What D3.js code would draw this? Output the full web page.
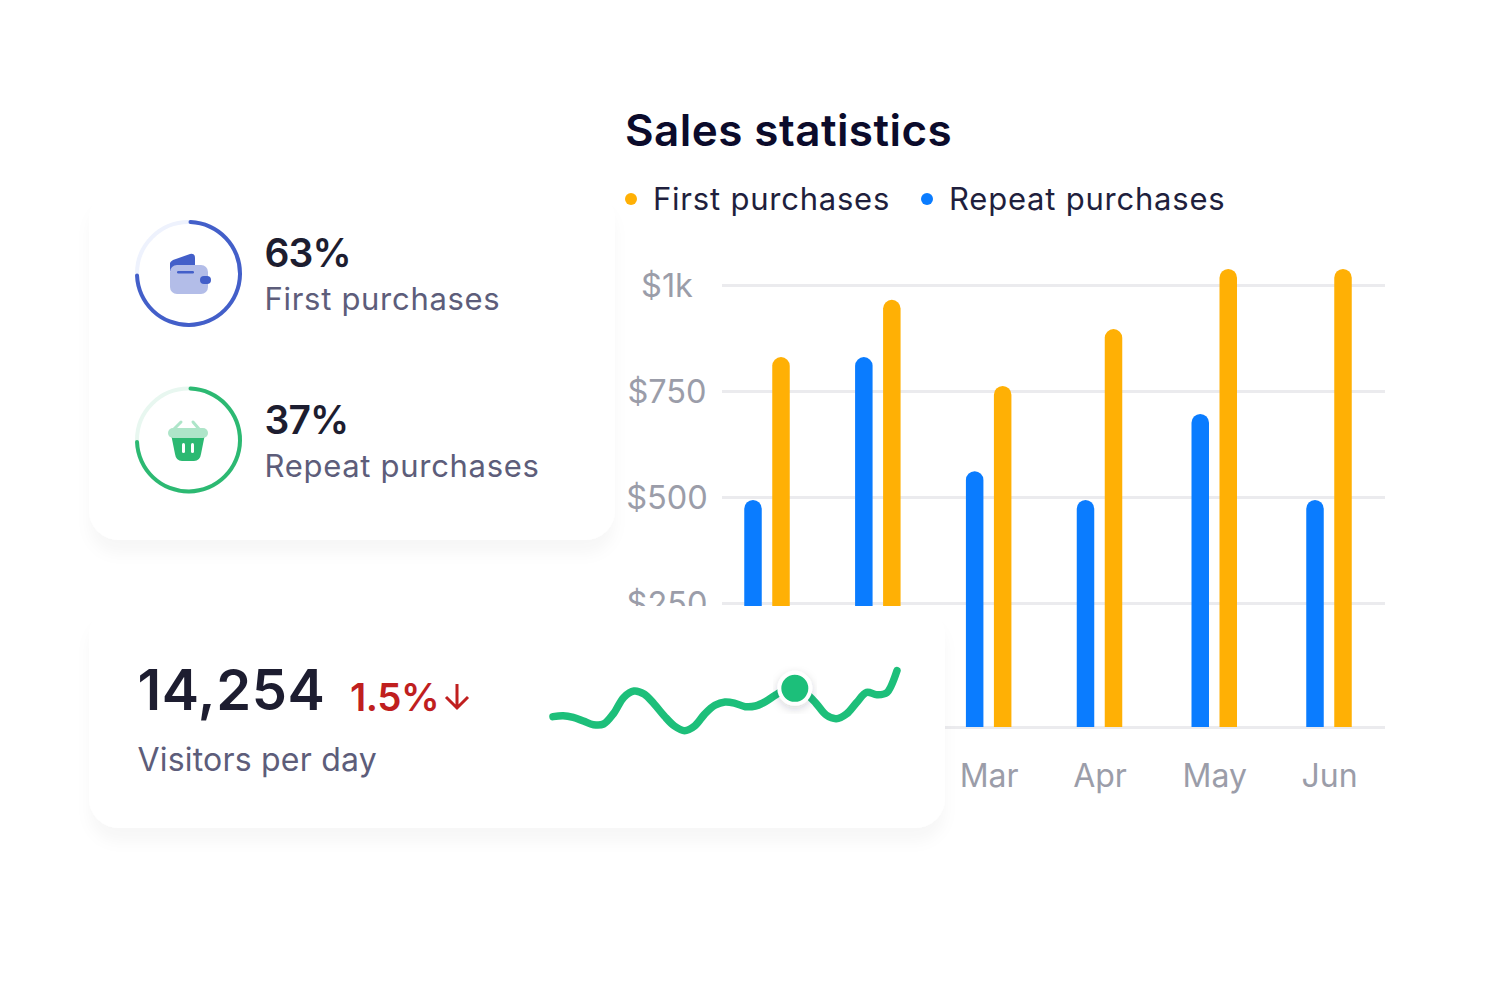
<!DOCTYPE html>
<html>
<head>
<meta charset="utf-8">
<script src="https://cdn.jsdelivr.net/npm/d3@7"></script>
<style>
  html, body { margin: 0; background: #fff; }
  svg { display: block; font-family: Inter, "Noto Sans", sans-serif; }
</style>
</head>
<body>
<svg id="chart" width="1507" height="996"></svg>
<script>
const months = ["Jan", "Feb", "Mar", "Apr", "May", "Jun"]
const repeatSales = [493, 830, 561, 493, 696, 493]
const firstSales = [830, 965, 762, 896, 1038, 1038]
const tickValues = [0, 250, 500, 750, 1000]
const tickLabels = ["", "$250", "$500", "$750", "$1k"]

const ringLabels = ["First purchases", "Repeat purchases"]
const ringPercents = ["63%", "37%"]
const ringFill = [0.75, 0.75]

const visitorValues = [70, 73, 68, 57, 46, 48, 80, 128, 147, 138, 108, 72, 42, 28, 42, 78, 104, 114, 110, 100, 102, 115, 135, 152, 155, 140, 110, 75, 64, 78, 112, 143, 136, 142, 208]
const highlightIndex = 24

const svg = d3.select("#chart")

// soft card shadows
const defs = svg.append("defs")
const addShadow = (id, dy, blur, opacity) => defs.append("filter")
  .attr("id", id)
  .attr("x", "-20%").attr("y", "-20%").attr("width", "140%").attr("height", "150%")
  .append("feDropShadow")
  .attr("dx", 0).attr("dy", dy).attr("stdDeviation", blur)
  .attr("flood-color", "#1a1a3a").attr("flood-opacity", opacity)
addShadow("cardShadow", 14, 7, 0.03)
addShadow("dotShadow", 3, 4, 0.18)

// Bar chart
// month groups are not evenly spaced: the gap widens a little after April
const x = d3.scaleLinear().domain([0, 3, 5]).range([767, 1099.5, 1329])
// the zero line sits lower than the even tick spacing would put it
const y = d3.scaleLinear().domain([0, 250, 1000]).range([727, 603, 285])

const plot = svg.append("g")

plot.append("text")
  .attr("x", 625).attr("y", 146)
  .attr("font-size", 44).attr("font-weight", 600).attr("letter-spacing", 0.45).attr("fill", "#0b0b2b")
  .text("Sales statistics")

const legend = [
  { label: "First purchases", color: "#ffb005", dot: 631, text: 653 },
  { label: "Repeat purchases", color: "#0a7cff", dot: 927, text: 949 }
]
legend.forEach(d => {
  plot.append("circle").attr("cx", d.dot).attr("cy", 199).attr("r", 6).attr("fill", d.color)
  plot.append("text")
    .attr("x", d.text).attr("y", 210)
    .attr("font-size", 31).attr("letter-spacing", 0.78).attr("fill", "#1f1f3d")
    .text(d.label)
})

const yAxis = plot.append("g")
  .attr("transform", "translate(722,0)")
  .call(d3.axisRight(y).tickValues(tickValues).tickSize(663)
    .tickFormat(d => tickLabels[tickValues.indexOf(d)]))
yAxis.select(".domain").remove()
yAxis.selectAll("line").attr("stroke", "#ebebee").attr("stroke-width", 3)
yAxis.selectAll("text")
  .attr("text-anchor", "middle").attr("x", -55).attr("dy", "0.36em")
  .attr("font-size", 32.5).attr("font-family", "Inter").attr("fill", "#9b9da9")

const xAxis = plot.append("g")
  .attr("transform", "translate(0,727)")
  .call(d3.axisBottom(x).tickValues(d3.range(months.length)).tickSize(0).tickPadding(37)
    .tickFormat(i => months[i]))
xAxis.select(".domain").remove()
xAxis.selectAll("text")
  .attr("font-size", 32).attr("font-family", "Inter").attr("fill", "#9b9da9")

const barWidth = 17.5
const barPath = (cx, value) => {
  const top = y(value), r = barWidth / 2, left = cx - r, right = cx + r
  const p = d3.path()
  p.moveTo(left, y(0))
  p.lineTo(left, top + r)
  p.arc(cx, top + r, r, Math.PI, 0)
  p.lineTo(right, y(0))
  p.closePath()
  return p.toString()
}
plot.append("g").selectAll("path").data(months).join("path")
  .attr("fill", "#0a7cff")
  .attr("d", (m, i) => barPath(x(i) - 14, repeatSales[i]))
plot.append("g").selectAll("path").data(months).join("path")
  .attr("fill", "#ffb005")
  .attr("d", (m, i) => barPath(x(i) + 14, firstSales[i]))

// Share card
svg.append("rect")
  .attr("x", 89).attr("y", 190).attr("width", 526).attr("height", 350).attr("rx", 30)
  .attr("fill", "#fff").attr("filter", "url(#cardShadow)")

const ringColors = ["#435fc9", "#2cb972"]
const ringTracks = ["#eef2fd", "#e8f7f0"]
const ringCenters = [273.5, 440]
const ringArc = d3.arc().innerRadius(49.5).outerRadius(53.5).cornerRadius(2).startAngle(0)

ringLabels.forEach((label, i) => {
  const g = svg.append("g").attr("transform", `translate(188.5,${ringCenters[i]})`)
  g.append("circle").attr("r", 51.5).attr("fill", "none")
    .attr("stroke", ringTracks[i]).attr("stroke-width", 4)
  g.append("path").attr("fill", ringColors[i])
    .attr("d", ringArc({ endAngle: 2 * Math.PI * ringFill[i] }))
  const t = svg.append("g").attr("transform", `translate(264.5,${ringCenters[i]})`)
  t.append("text").attr("y", -6.5)
    .attr("font-size", 39).attr("font-weight", 600).attr("letter-spacing", -0.9).attr("fill", "#1d1d30")
    .text(ringPercents[i])
  t.append("text").attr("y", 36.5)
    .attr("font-size", 31).attr("letter-spacing", 0.7).attr("fill", "#5d5d7a")
    .text(label)
})

// wallet icon
const wallet = svg.append("g").attr("transform", "translate(188,273)")
wallet.append("path").attr("fill", "#435fc9")
  .attr("d", "M-18,-2 L-18,-10 Q-18,-11 -15,-13 L2,-19 Q7,-20 7,-15 L7,0 Z")
wallet.append("rect").attr("x", -18).attr("y", -8).attr("width", 38).attr("height", 29).attr("rx", 7).attr("fill", "#b3bde8")
wallet.append("rect").attr("x", -11).attr("y", -2).attr("width", 17).attr("height", 2.5).attr("rx", 1.2).attr("fill", "#435fc9")
wallet.append("rect").attr("x", 12).attr("y", 3).attr("width", 11).attr("height", 8).attr("rx", 4).attr("fill", "#435fc9")

// basket icon
const basket = svg.append("g").attr("transform", "translate(188,440)")
basket.append("path").attr("fill", "none").attr("stroke", "#aee5c9").attr("stroke-width", 3).attr("stroke-linecap", "round")
  .attr("d", "M-14,-11 L-7,-18 M11,-11 L5,-18")
basket.append("path").attr("fill", "#2cb972")
  .attr("d", "M-17,-6 L17,-6 L13,14 Q12,21 6,21 L-6,21 Q-12,21 -13,14 Z")
basket.append("rect").attr("x", -20).attr("y", -12).attr("width", 40).attr("height", 10).attr("rx", 5).attr("fill", "#aee5c9")
basket.append("rect").attr("x", -6).attr("y", 3).attr("width", 3).attr("height", 10).attr("rx", 1.5).attr("fill", "#fff")
basket.append("rect").attr("x", 3).attr("y", 3).attr("width", 3).attr("height", 10).attr("rx", 1.5).attr("fill", "#fff")

// Visitors card
svg.append("rect")
  .attr("x", 89).attr("y", 606).attr("width", 856).attr("height", 222).attr("rx", 30)
  .attr("fill", "#fff").attr("filter", "url(#cardShadow)")

svg.append("text").attr("x", 137.5).attr("y", 710)
  .attr("font-size", 56).attr("font-weight", 600).attr("letter-spacing", 0.6).attr("fill", "#1d1d30")
  .text("14,254")
svg.append("text").attr("x", 350).attr("y", 711)
  .attr("font-size", 38.5).attr("font-weight", 600).attr("letter-spacing", -0.5).attr("fill", "#c01f1f")
  .text("1.5%")
svg.append("path").attr("fill", "none").attr("stroke", "#c01f1f").attr("stroke-width", 3)
  .attr("d", "M457,684 L457,708 M446,697 L457,708 L468,697")
svg.append("text").attr("x", 137.5).attr("y", 771)
  .attr("font-size", 32).attr("letter-spacing", 0.2).attr("fill", "#5d5d7a")
  .text("Visitors per day")

// Sparkline
const sx = d3.scaleLinear().domain([0, visitorValues.length - 1]).range([553, 897])
const sy = d3.scaleLinear().domain([0, 300]).range([740, 640])
const line = d3.line().x((d, i) => sx(i)).y(d => sy(d)).curve(d3.curveCatmullRom.alpha(0.5))

svg.append("path").datum(visitorValues)
  .attr("fill", "none").attr("stroke", "#1dbf7a").attr("stroke-width", 7.5).attr("stroke-linecap", "round")
  .attr("d", line)
svg.append("circle")
  .attr("cx", sx(highlightIndex) - 1).attr("cy", sy(visitorValues[highlightIndex])).attr("r", 15.5)
  .attr("fill", "#1dbf7a").attr("stroke", "#fff").attr("stroke-width", 4).attr("filter", "url(#dotShadow)")
</script>
</body>
</html>
